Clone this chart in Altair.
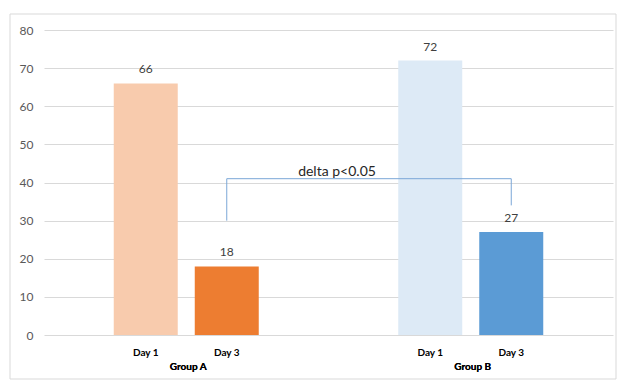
import altair as alt
import pandas as pd

groups = ["Group A", "Group A", "Group B", "Group B"]
days = ["Day 1", "Day 3", "Day 1", "Day 3"]
values = [66, 18, 72, 27]
colors = ["#f8cbad", "#ed7d31", "#ddeaf6", "#5b9bd5"]
y_ticks = [0, 10, 20, 30, 40, 50, 60, 70, 80]

bracket_groups = ["Group A", "Group A", "Group B", "Group B"]
bracket_days = ["Day 3", "Day 3", "Day 3", "Day 3"]
bracket_values = [30, 41, 41, 34]
bracket_label = "delta p<0.05"

df = pd.DataFrame({"group": groups, "day": days, "value": values,
                   "key": [g + d for g, d in zip(groups, days)]})
bdf = pd.DataFrame({"group": bracket_groups, "day": bracket_days,
                    "value": bracket_values, "seq": list(range(len(bracket_values)))})

W, H = 569, 305
FONT = "Lato"

xs = alt.X("group:N", scale=alt.Scale(paddingInner=0, paddingOuter=0),
           axis=alt.Axis(title=None, labels=False, ticks=False, domain=False, grid=False))
xo = alt.XOffset("day:N", scale=alt.Scale(domain=["Day 1", "Day 3"], paddingInner=0.21, paddingOuter=0.861))
ys = alt.Y("value:Q", scale=alt.Scale(domain=[0, 80], nice=False),
           axis=alt.Axis(title=None, values=y_ticks, ticks=False, domain=False,
                         labelColor="#595959", labelFontSize=12, labelFont=FONT, labelPadding=11,
                         gridColor="#d9d9d9", gridWidth=1, labelOverlap=False))

bars = alt.Chart(df).mark_bar().encode(
    x=xs, xOffset=xo, y=ys,
    color=alt.Color("key:N", scale=alt.Scale(domain=[g + d for g, d in zip(groups, days)], range=colors), legend=None),
)
vals = alt.Chart(df).mark_text(dy=-7, baseline="bottom", fontSize=12, font=FONT, color="#404040").encode(
    x=xs, xOffset=xo, y=ys, text="value:Q")
daylab = alt.Chart(df).mark_text(fontSize=10, font=FONT, fontWeight="bold", color="#000000", baseline="middle").encode(
    x=xs, xOffset=xo, y=alt.value(H + 18), text="day:N")
grouplab = alt.Chart(df).mark_text(dx=2, fontSize=10, font=FONT, fontWeight="bold", color="#000000", baseline="middle").encode(
    x=xs, y=alt.value(H + 32), text="group:N")

bracket = alt.Chart(bdf).mark_line(color="#7ba7d7", strokeWidth=1, interpolate="linear", xOffset=3).encode(
    x=xs, xOffset=xo, y=ys, order="seq:Q")
blabel = alt.Chart(pd.DataFrame({"t": [bracket_label], "value": [41.8]})).mark_text(
    fontSize=14, font=FONT, color="#262626", baseline="alphabetic").encode(
    x=alt.value(293), y=ys, text="t:N")

border = alt.Chart(pd.DataFrame({"a": [0]})).mark_rect(fill="transparent", stroke="#d9d9d9", strokeWidth=1).encode(
    x=alt.value(-34), x2=alt.value(W + 3), y=alt.value(-16), y2=alt.value(H + 44))

chart = alt.layer(border, bars, vals, daylab, grouplab, bracket, blabel).properties(
    width=W, height=H,
    background="white",
    autosize=alt.AutoSizeParams(type="none"),
    padding={"left": 44, "top": 30, "right": 4, "bottom": 45},
).configure_view(strokeWidth=0, stroke="transparent")

chart.save("out.html", embed_options={"renderer": "svg", "actions": False})
